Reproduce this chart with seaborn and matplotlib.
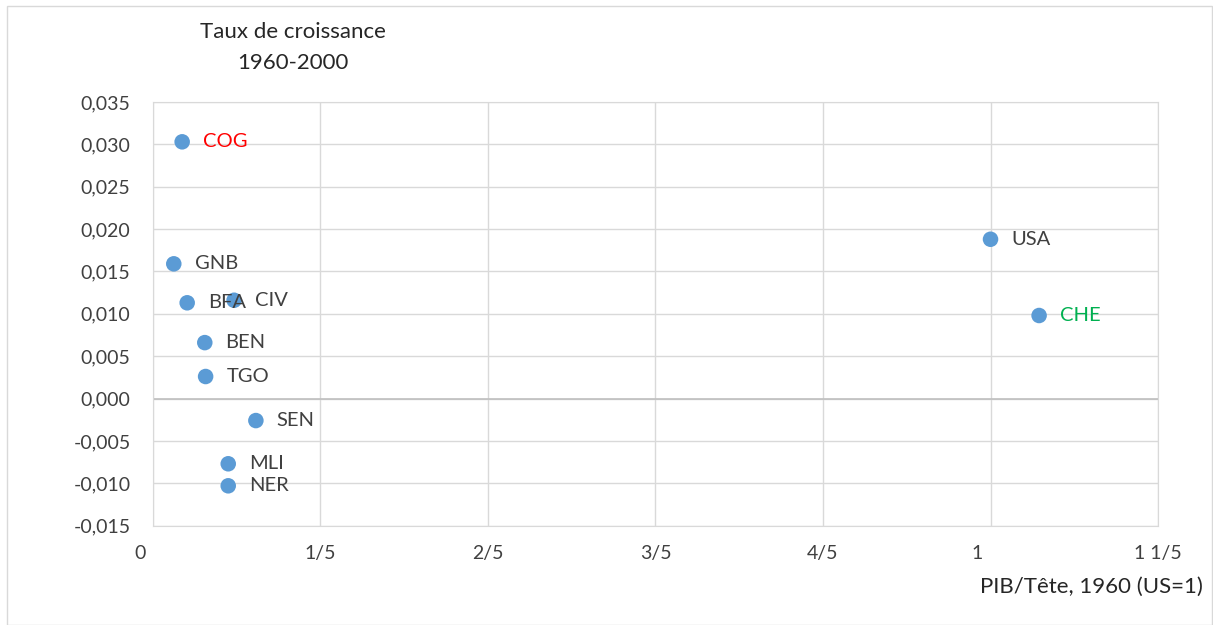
import numpy as np
import pandas as pd
import matplotlib.pyplot as plt
import seaborn as sns
from matplotlib.patches import Rectangle

pays = ['COG', 'GNB', 'BFA', 'CIV', 'BEN', 'TGO', 'SEN', 'MLI', 'NER', 'USA', 'CHE']
pib_1960 = [0.035, 0.025, 0.041, 0.097, 0.062, 0.063, 0.123, 0.090, 0.090, 1.000, 1.058]
croissance = [0.0303, 0.0159, 0.0113, 0.0116, 0.0066, 0.0026, -0.0026, -0.0077, -0.0103, 0.0188, 0.0098]
couleurs_labels = {'COG': '#FF0000', 'CHE': '#00B050'}

x_ticks = [0, 0.2, 0.4, 0.6, 0.8, 1.0, 1.2]
x_labels = ['0     ', '1/5', '2/5', '3/5', '4/5', '1     ', '1 1/5']
y_ticks = np.arange(-0.015, 0.0351, 0.005)

df = pd.DataFrame({'pays': pays, 'pib': pib_1960, 'g': croissance})

sns.set_style('white')
plt.rcParams['font.family'] = ['Lato', 'DejaVu Sans']

fig = plt.figure(figsize=(12.13, 6.25), dpi=100)
ax = fig.add_axes([0.126, 0.159, 0.8287, 0.6778])

sns.scatterplot(data=df, x='pib', y='g', ax=ax, s=125, color='#5B9BD5',
                edgecolor='none', zorder=3)

# étiquettes des pays
for i, row in df.iterrows():
    ax.annotate(row['pays'], (row['pib'], row['g']), xytext=(15, 0),
                textcoords='offset points', va='center', ha='left', fontsize=14.5,
                color=couleurs_labels.get(row['pays'], '#404040'), zorder=4)

ax.set_xlim(0, 1.2)
ax.set_ylim(-0.015, 0.035)
ax.set_xticks(x_ticks)
ax.set_xticklabels(x_labels)
ax.set_yticks(y_ticks)
ax.set_yticklabels([f'{v:.3f}'.replace('.', ',') for v in y_ticks])
ax.tick_params(axis='both', length=0, labelsize=14, colors='#404040')
ax.tick_params(axis='y', pad=16)
ax.tick_params(axis='x', pad=14)
ax.grid(True, color='#D9D9D9', linewidth=1)
ax.axhline(0, color='#BFBFBF', linewidth=1.2, zorder=2)
for s in ax.spines.values():
    s.set_color('#D9D9D9')
ax.set_xlabel('')
ax.set_ylabel('')

fig.text(0.2415, 0.948, 'Taux de croissance', ha='center', va='center', fontsize=16, color='#262626')
fig.text(0.2415, 0.899, '1960-2000', ha='center', va='center', fontsize=16, color='#262626')
fig.text(0.992, 0.061, 'PIB/Tête, 1960 (US=1)', ha='right', va='center', fontsize=16, color='#262626')

fig.patches.append(Rectangle((0.006, 0.0), 0.993, 0.99, transform=fig.transFigure,
                             fill=False, edgecolor='#D9D9D9', linewidth=1))

fig.savefig('out.png', dpi=100)
